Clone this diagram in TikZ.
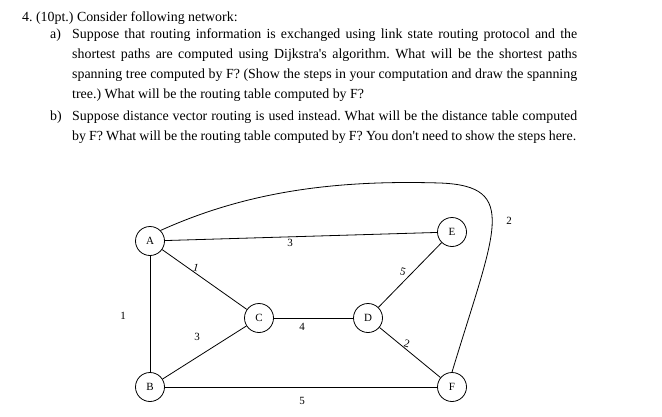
\documentclass[tikz,border=0pt]{standalone}
\usepackage{fontspec}
\setmainfont{Liberation Serif}
\begin{document}
\frenchspacing
\begin{tikzpicture}[x=1pt,y=-1pt,
  nd/.style={circle,draw,thick,minimum size=29pt,inner sep=0pt,font=\fontsize{11}{12}\selectfont},
  ln/.style={thick},
  lb/.style={font=\fontsize{11}{12}\selectfont,inner sep=1pt},
  tx/.style={anchor=west,inner sep=0pt,font=\fontsize{13.9}{15}\selectfont}]
\useasboundingbox (0,0) rectangle (662,416);
\node[tx] (t1) at (22,18) {4. (10pt.) Consider following network:};
\node[tx] (t2a) at (50,35) {a)};
\node[tx] (t2) at (72,35) {\makebox[505pt][s]{Suppose that routing information is exchanged using link state routing protocol and the}};
\node[tx] (t3) at (72,55) {\makebox[505pt][s]{shortest paths are computed using Dijkstra\textquotesingle s algorithm. What will be the shortest paths}};
\node[tx] (t4) at (72,75) {\makebox[505pt][s]{spanning tree computed by F? (Show the steps in your computation and draw the spanning}};
\node[tx] (t5) at (72,95) {tree.) What will be the routing table computed by F?};
\node[tx] (t6a) at (50,117) {b)};
\node[tx] (t6) at (72,117) {\makebox[505pt][s]{Suppose distance vector routing is used instead. What will be the distance table computed}};
\node[tx] (t7) at (72,137) {\makebox[504pt][s]{by F? What will be the routing table computed by F? You don\textquotesingle t need to show the steps here.}};
\node[nd] (A) at (150,241) {A};
\node[nd] (E) at (452,232) {E};
\node[nd] (C) at (259,318) {C};
\node[nd] (D) at (368,318) {D};
\node[nd] (B) at (150,387) {B};
\node[nd] (F) at (452,387) {F};
\draw[ln] (A) -- (E);
\draw[ln] (A) -- (C);
\draw[ln] (C) -- (D);
\draw[ln] (D) -- (E);
\draw[ln] (D) -- (F);
\draw[ln] (B) -- (C);
\draw[ln] (B) -- (F);
\draw[ln] (A) -- (B);
\draw[ln] (A.north east) .. controls (250,190) and (340,180) .. (440,183)
  .. controls (520,186) and (495,230) .. (F.north);
\node[lb] (l1) at (290,243) {3};
\node[lb,rotate=-15] (l2) at (196,268) {1};
\node[lb] (l3) at (302,327) {4};
\node[lb,rotate=-15] (l4) at (403,272) {5};
\node[lb,rotate=-15] (l5) at (407,344) {2};
\node[lb] (l6) at (197,337) {3};
\node[lb] (l7) at (302,401) {5};
\node[lb] (l8) at (123,316) {1};
\node[lb] (l9) at (509,221) {2};
\end{tikzpicture}
\end{document}
